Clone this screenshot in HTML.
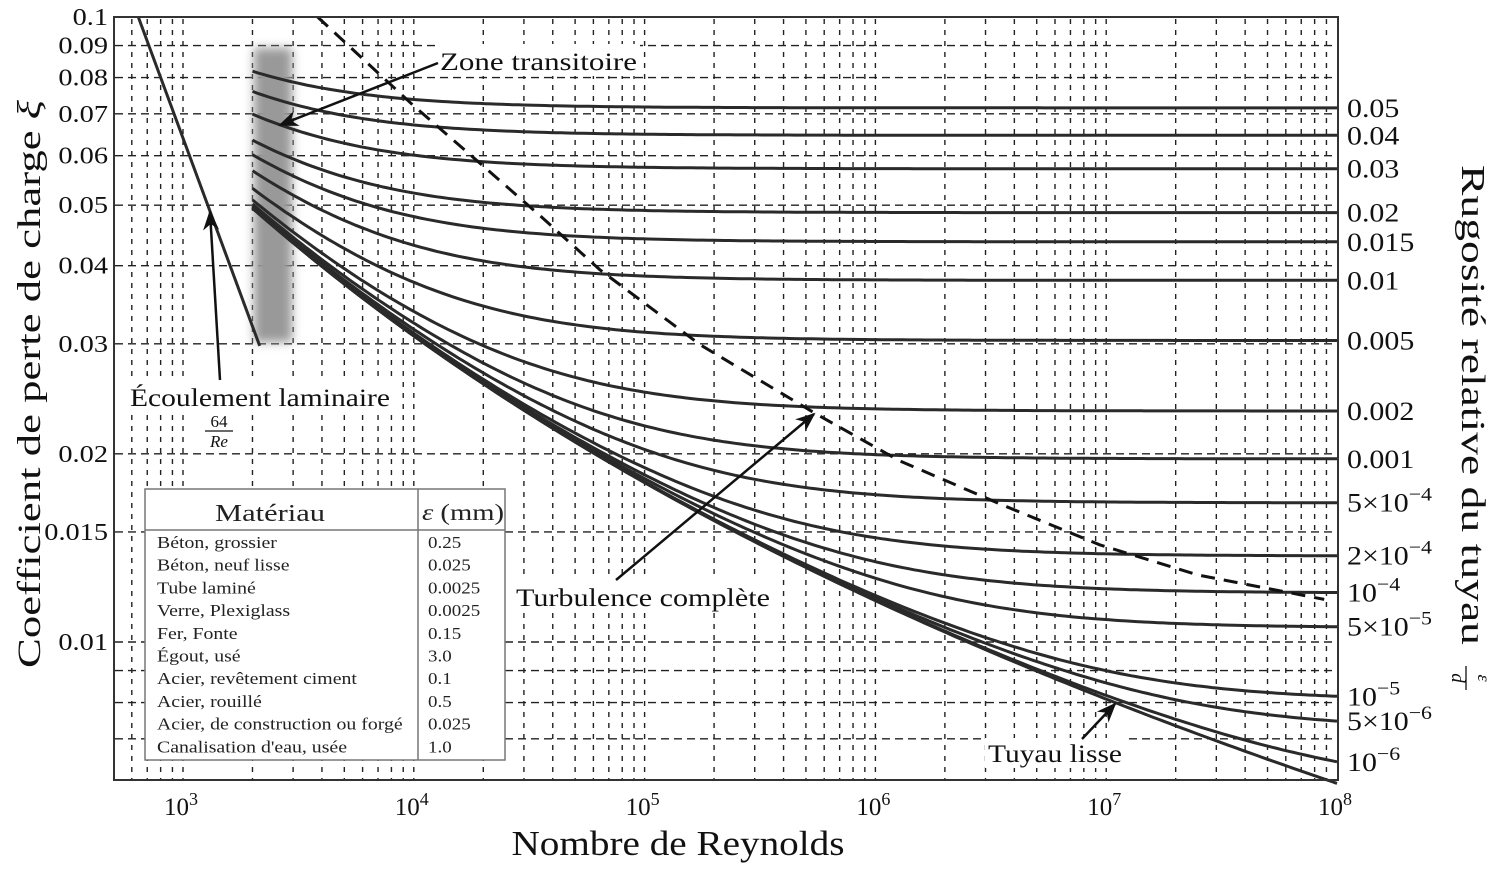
<!DOCTYPE html>
<html><head><meta charset="utf-8">
<style>
html,body{margin:0;padding:0;background:#fff;}
svg{display:block;font-family:"Liberation Serif",serif;}
</style></head>
<body>
<svg id="chart" width="1503" height="869" viewBox="0 0 1503 869" xmlns="http://www.w3.org/2000/svg">
<defs>
<filter id="blur" x="-50%" y="-20%" width="200%" height="140%"><feGaussianBlur stdDeviation="5"/></filter>
<marker id="ah" viewBox="0 0 10 10" refX="9" refY="5" markerWidth="8" markerHeight="8" orient="auto-start-reverse"><path d="M0,1 L10,5 L0,9 L3,5 z" fill="#111"/></marker>
</defs>
<g id="grid"></g>
<rect x="254" y="48" width="38" height="294" fill="#999" filter="url(#blur)"/>
<g id="series"></g>
<rect x="114" y="17" width="1224" height="763" fill="none" stroke="#333" stroke-width="2"/>
<g id="ticks"></g>
<g id="rlabels"></g>

<!-- annotations -->
<rect x="438" y="44" width="202" height="32" fill="#fff"/>
<text x="440" y="70" font-size="25" textLength="197" lengthAdjust="spacingAndGlyphs" fill="#111">Zone transitoire</text>
<line x1="438" y1="63" x2="280" y2="125" stroke="#111" stroke-width="2.5" marker-end="url(#ah)"/>
<rect x="128" y="380" width="266" height="32" fill="#fff"/>
<text x="130" y="406" font-size="25" textLength="260" lengthAdjust="spacingAndGlyphs" fill="#111">Écoulement laminaire</text>
<text x="219" y="427" font-size="17" text-anchor="middle" fill="#111">64</text>
<line x1="205" y1="431" x2="233" y2="431" stroke="#111" stroke-width="1.2"/>
<text x="219" y="447" font-size="17" font-style="italic" text-anchor="middle" fill="#111">Re</text>
<line x1="220" y1="380" x2="210" y2="212" stroke="#111" stroke-width="2.5" marker-end="url(#ah)"/>
<rect x="513" y="580" width="260" height="32" fill="#fff"/>
<text x="516" y="606" font-size="25" textLength="254" lengthAdjust="spacingAndGlyphs" fill="#111">Turbulence complète</text>
<line x1="616" y1="580" x2="814" y2="414" stroke="#111" stroke-width="2.5" marker-end="url(#ah)"/>
<rect x="985" y="738" width="140" height="30" fill="#fff"/>
<text x="988" y="762" font-size="25" textLength="134" lengthAdjust="spacingAndGlyphs" fill="#111">Tuyau lisse</text>
<line x1="1082" y1="739" x2="1115" y2="704" stroke="#111" stroke-width="2.5" marker-end="url(#ah)"/>

<!-- legend table -->
<g>
<rect x="145" y="489" width="360" height="271" fill="#fff" stroke="#777" stroke-width="1.5"/>
<line x1="145" y1="530" x2="505" y2="530" stroke="#777" stroke-width="1.5"/>
<line x1="418" y1="489" x2="418" y2="760" stroke="#777" stroke-width="1.5"/>
<text x="215" y="521" font-size="24" textLength="110" lengthAdjust="spacingAndGlyphs" fill="#222">Matériau</text>
<text x="422" y="520" font-size="23" textLength="82" lengthAdjust="spacingAndGlyphs" fill="#222"><tspan font-style="italic">ε</tspan> (mm)</text>
<g id="trows" font-size="16.5" fill="#222"></g>
</g>

<!-- axis titles -->
<text x="678" y="855" font-size="35" text-anchor="middle" textLength="333" lengthAdjust="spacingAndGlyphs" fill="#111">Nombre de Reynolds</text>
<text transform="translate(40,384) rotate(-90)" font-size="33" text-anchor="middle" textLength="568" lengthAdjust="spacingAndGlyphs" fill="#111">Coefficient de perte de charge <tspan font-style="italic">ξ</tspan></text>
<text transform="translate(1462,405) rotate(90)" font-size="34" text-anchor="middle" textLength="480" lengthAdjust="spacingAndGlyphs" fill="#111">Rugosité relative du tuyau</text>
<text transform="translate(1478,678) rotate(90)" font-size="18" font-style="italic" text-anchor="middle" fill="#111">ε</text>
<line x1="1466" y1="666" x2="1466" y2="690" stroke="#111" stroke-width="1.3"/>
<text transform="translate(1452,678) rotate(90)" font-size="19" font-style="italic" text-anchor="middle" fill="#111">d</text>

<script>
// ---- data ----
const roughness = [0.05,0.04,0.03,0.02,0.015,0.01,0.005,0.002,0.001,5e-4,2e-4,1e-4,5e-5,1e-5,5e-6,1e-6,0];
const roughnessLabels = ["0.05","0.04","0.03","0.02","0.015","0.01","0.005","0.002","0.001","5×10|-4","2×10|-4","10|-4","5×10|-5","10|-5","5×10|-6","10|-6",""];
const reStart = 2000, reEnd = 1e8;
const laminarRe = [640, 2150];
const boundaryRe = [3830, 9900, 18700, 35000, 64000, 174000, 550000, 1270000, 3500000, 9400000, 25000000, 88000000];
const boundaryF  = [0.1, 0.0723, 0.059, 0.0482, 0.0394, 0.0299, 0.0232, 0.0195, 0.0166, 0.0143, 0.0128, 0.0117];
const yTicks = [0.1,0.09,0.08,0.07,0.06,0.05,0.04,0.03,0.02,0.015,0.01];
const yTickLabels = ["0.1","0.09","0.08","0.07","0.06","0.05","0.04","0.03","0.02","0.015","0.01"];
const yGridExtra = [0.009,0.008,0.007];
const xDecades = [3,4,5,6,7,8];
const materials = ["Béton, grossier","Béton, neuf lisse","Tube laminé","Verre, Plexiglass","Fer, Fonte","Égout, usé","Acier, revêtement ciment","Acier, rouillé","Acier, de construction ou forgé","Canalisation d'eau, usée"];
const materialEps = ["0.25","0.025","0.0025","0.0025","0.15","3.0","0.1","0.5","0.025","1.0"];

// ---- axes ----
const X = re => 183 + (Math.log10(re) - 3) * 230.8;
const Y = f => 642 - (Math.log10(f) + 2) * 625;
const NS = "http://www.w3.org/2000/svg";
function mk(tag, attrs, parent){const e=document.createElementNS(NS,tag);for(const k in attrs)e.setAttribute(k,attrs[k]);parent.appendChild(e);return e;}
function widen(t,k){const w=t.getComputedTextLength();t.setAttribute('textLength',(w*k).toFixed(1));t.setAttribute('lengthAdjust','spacingAndGlyphs');}
function colebrook(re, r){let f=0.02;for(let i=0;i<60;i++){const v=-2*Math.log10(r/3.7+2.51/(re*Math.sqrt(f)));f=1/(v*v);}return f;}

const grid=document.getElementById('grid');
for(let d=2; d<8; d++){for(let m=1;m<10;m++){const re=m*Math.pow(10,d);if(re<520)continue;const x=X(re);
 const l=mk('line',{x1:x,y1:19,x2:x,y2:779,stroke:'#222','stroke-width':1.4,'stroke-dasharray':'5,6'},grid);
 
 }}
yTicks.concat(yGridExtra).forEach(f=>{const y=Y(f);
 const l=mk('line',{x1:115,y1:y,x2:1337,y2:y,stroke:'#222','stroke-width':1.4,'stroke-dasharray':'8,5'},grid);
 
 });

const ticks=document.getElementById('ticks');
yTicks.forEach((f,i)=>{const t=mk('text',{x:108,y:Y(f)+8,'font-size':24,'text-anchor':'end',fill:'#111'},ticks);t.textContent=yTickLabels[i];
 
 
 widen(t,1.18);});
xDecades.forEach(d=>{const t=mk('text',{x:X(Math.pow(10,d))-2,y:815,'font-size':25,'text-anchor':'middle',fill:'#111'},ticks);
 
 
 const a=mk('tspan',{},t);a.textContent='10';const b=mk('tspan',{dy:-10,'font-size':18},t);b.textContent=String(d);});

const series=document.getElementById('series');
{const p=laminarRe.map((re,i)=>(i?'L':'M')+X(re).toFixed(1)+','+Y(64/re).toFixed(1)).join(' ');
 const l=mk('path',{d:p,fill:'none',stroke:'#2a2a2a','stroke-width':3},series);
 
 }
const rl=document.getElementById('rlabels');
roughness.forEach((r,i)=>{let d='';const N=200;for(let k=0;k<=N;k++){const re=Math.pow(10,Math.log10(reStart)+k/N*(Math.log10(reEnd)-Math.log10(reStart)));d+=(k?'L':'M')+X(re).toFixed(1)+','+Y(colebrook(re,r)).toFixed(1);}
 const c=mk('path',{d:d,fill:'none',stroke:'#2a2a2a','stroke-width':3},series);
 
 
 if(roughnessLabels[i]){const yy=Y(colebrook(reEnd,r));const parts=roughnessLabels[i].split('|');
  const t=mk('text',{x:1347,y:yy+9,'font-size':26,fill:'#111'},rl);
  
  
  const a=mk('tspan',{},t);a.textContent=parts[0];
  if(parts[1]){const b=mk('tspan',{dy:-11,'font-size':19},t);b.textContent='−'+parts[1].slice(1);}
  widen(t,1.15);}
});
{const p=boundaryRe.map((re,i)=>(i?'L':'M')+X(re).toFixed(1)+','+Y(boundaryF[i]).toFixed(1)).join(' ');
 const l=mk('path',{d:p,fill:'none',stroke:'#111','stroke-width':3,'stroke-dasharray':'14,9'},series);
 
 }

const tr=document.getElementById('trows');
materials.forEach((m,i)=>{const y=548+i*22.7;
 const a=mk('text',{x:157,y:y},tr);a.textContent=m;
 
 
 widen(a,1.2);
 const b=mk('text',{x:428,y:y},tr);b.textContent=materialEps[i];
 
 
 widen(b,1.15);});
</script>
</svg>
</body></html>
